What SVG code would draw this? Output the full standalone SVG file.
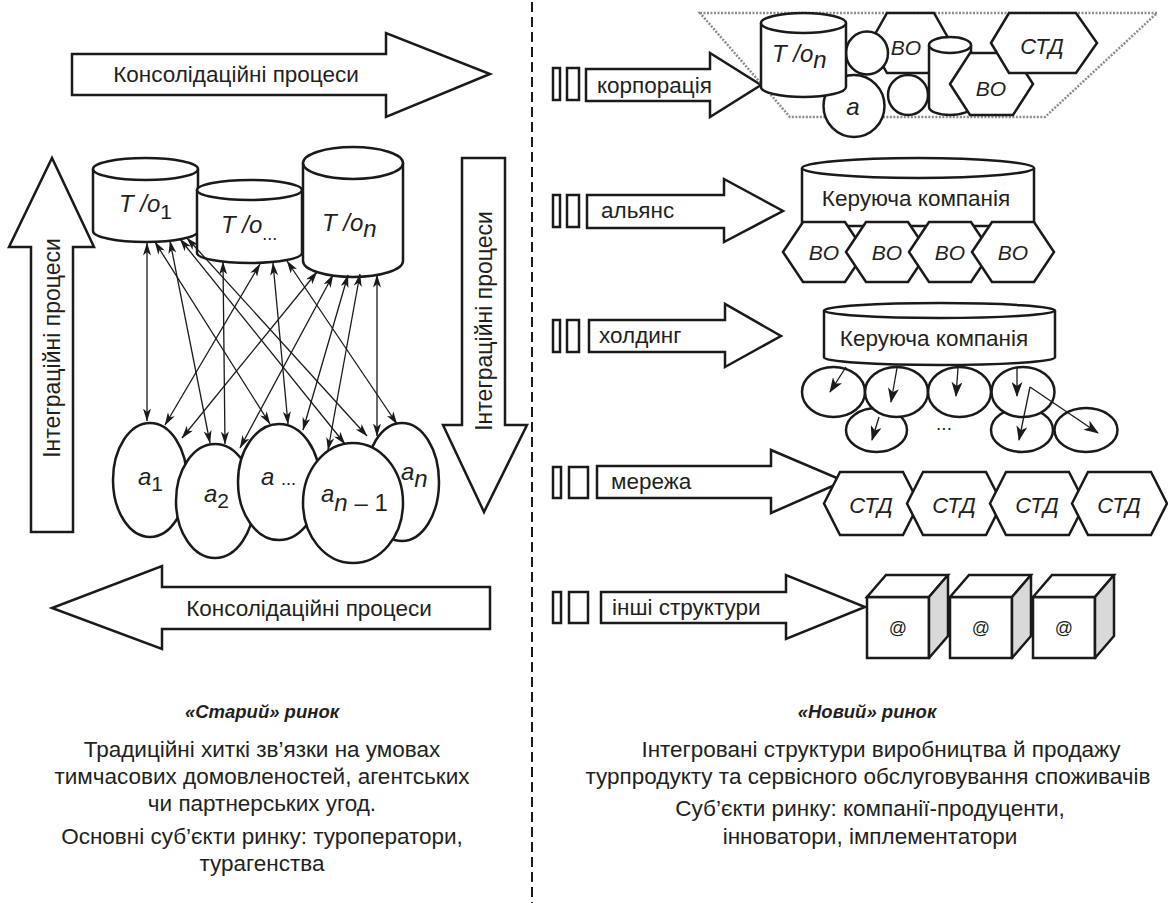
<svg xmlns="http://www.w3.org/2000/svg" width="1168" height="903" viewBox="0 0 1168 903">
<defs>
<style>
.s{fill:#fff;stroke:#1a1a1a;stroke-width:2.5}
.g{fill:#d9d9d9;stroke:#1a1a1a;stroke-width:2.5;stroke-linejoin:round}
.t{font-family:"Liberation Sans",Arial,sans-serif;fill:#231f20}
.i{font-style:italic}
.lab{font-size:22.5px}
.ln{stroke:#1a1a1a;stroke-width:1.3;fill:none}
.dot{fill:none;stroke:#8c8c8c;stroke-width:2.5;stroke-dasharray:2 1.5}
</style>
<marker id="m1" viewBox="0 0 13 8" refX="12.5" refY="4" markerWidth="13" markerHeight="8" markerUnits="userSpaceOnUse" orient="auto-start-reverse"><path d="M0,0 L13,4 L0,8 L3.5,4 Z" fill="#1a1a1a"/></marker>
<marker id="m2" viewBox="0 0 15 11" refX="14" refY="5.5" markerWidth="15" markerHeight="11" markerUnits="userSpaceOnUse" orient="auto"><path d="M0,0 L15,5.5 L0,11 L4,5.5 Z" fill="#1a1a1a"/></marker>
</defs>
<rect width="1168" height="903" fill="#fff"/>

<line x1="532" y1="2" x2="532" y2="903" stroke="#1a1a1a" stroke-width="2" stroke-dasharray="10 5"/>

<g id="cons-top">
<path class="s" d="M72,54 H386 V33 L490,74 L386,117 V95 H72 Z"/>
<text class="t lab" x="236" y="82" text-anchor="middle">Консолідаційні процеси</text>
</g>
<g id="cons-bottom">
<path class="s" d="M490,587 H162 V566 L52,608 L162,649 V629 H490 Z"/>
<text class="t lab" x="309" y="616" text-anchor="middle">Консолідаційні процеси</text>
</g>
<g id="integr-left">
<path class="s" d="M31,532 V247 H9 L52,158 L94,247 H73 V532 Z"/>
<text class="t" transform="translate(60,348) rotate(-90)" font-size="23" text-anchor="middle">Інтеграційні процеси</text>
</g>
<g id="integr-mid">
<path class="s" d="M462,158 H505 V425 H527 L484,512 L443,425 H462 Z"/>
<text class="t" transform="translate(492,321) rotate(-90)" font-size="23" text-anchor="middle">Інтеграційні процеси</text>
</g>

<g id="to1">
<path class="s" d="M93,169 V231 A52.5,11 0 0 0 198,231 V169"/>
<ellipse class="s" cx="145.5" cy="169" rx="52.5" ry="11"/>
<text class="t i" x="119" y="212" font-size="24">T /o<tspan font-style="normal" font-size="21" dy="7">1</tspan></text>
</g>
<g id="to2">
<path class="s" d="M197,190 V253 A52.5,10 0 0 0 302,253 V190"/>
<ellipse class="s" cx="249.5" cy="190" rx="52.5" ry="10"/>
<text class="t i" x="221" y="233" font-size="24">T /o<tspan font-style="normal" font-size="18" dy="7">...</tspan></text>
</g>
<g id="ton">
<path class="s" d="M303,163 V261 A50,16 0 0 0 403,261 V163"/>
<ellipse class="s" cx="353" cy="163" rx="50" ry="16"/>
<text class="t i" x="322" y="231" font-size="24">T /o<tspan dy="6">n</tspan></text>
</g>

<g id="a1">
<ellipse class="s" cx="150" cy="480" rx="37" ry="57"/>
<text class="t i" x="138" y="485" font-size="24">a<tspan font-style="normal" font-size="21" dy="6">1</tspan></text>
</g>
<g id="a2">
<ellipse class="s" cx="215" cy="501" rx="39" ry="57"/>
<text class="t i" x="204" y="502" font-size="24">a<tspan font-style="normal" font-size="21" dy="6">2</tspan></text>
</g>
<g id="a3">
<ellipse class="s" cx="279" cy="482" rx="41" ry="58"/>
<text class="t i" x="261" y="485" font-size="24">a <tspan font-style="normal" font-size="18">...</tspan></text>
</g>
<g id="an">
<ellipse class="s" cx="402" cy="482" rx="37" ry="59"/>
<text class="t i" x="401" y="480" font-size="24">a<tspan dy="7">n</tspan></text>
</g>
<g id="an1">
<ellipse class="s" cx="353" cy="503" rx="50" ry="60"/>
<text class="t i" x="321" y="502" font-size="24">a<tspan dy="9">n <tspan font-style="normal">– 1</tspan></tspan></text>
</g>

<g id="links-left">
<line class="ln" marker-start="url(#m1)" marker-end="url(#m1)" x1="147" y1="243" x2="147" y2="421"/>
<line class="ln" marker-start="url(#m1)" marker-end="url(#m1)" x1="170" y1="241" x2="210" y2="443"/>
<line class="ln" marker-start="url(#m1)" marker-end="url(#m1)" x1="155" y1="242" x2="270" y2="424"/>
<line class="ln" marker-start="url(#m1)" marker-end="url(#m1)" x1="180" y1="239" x2="345" y2="444"/>
<line class="ln" marker-start="url(#m1)" marker-end="url(#m1)" x1="187" y1="238" x2="367" y2="436"/>
<line class="ln" marker-start="url(#m1)" marker-end="url(#m1)" x1="223" y1="262" x2="225" y2="444"/>
<line class="ln" marker-start="url(#m1)" marker-end="url(#m1)" x1="260" y1="264" x2="165" y2="425"/>
<line class="ln" marker-start="url(#m1)" marker-end="url(#m1)" x1="273" y1="263" x2="288" y2="424"/>
<line class="ln" marker-start="url(#m1)" marker-end="url(#m1)" x1="287" y1="261" x2="397" y2="424"/>
<line class="ln" marker-start="url(#m1)" marker-end="url(#m1)" x1="317" y1="272" x2="182" y2="438"/>
<line class="ln" marker-start="url(#m1)" marker-end="url(#m1)" x1="333" y1="275" x2="240" y2="448"/>
<line class="ln" marker-start="url(#m1)" marker-end="url(#m1)" x1="348" y1="275" x2="303" y2="430"/>
<line class="ln" marker-start="url(#m1)" marker-end="url(#m1)" x1="360" y1="274" x2="328" y2="450"/>
<line class="ln" marker-start="url(#m1)" marker-end="url(#m1)" x1="377" y1="275" x2="377" y2="436"/>
</g>

<g id="corp-arrow">
<rect class="s" x="553" y="68" width="7" height="32"/>
<rect class="s" x="567" y="68" width="12" height="32"/>
<path class="s" d="M586,69 H710 V53 L761,85 L710,117 V101 H586 Z"/>
<text class="t lab" x="597" y="93">корпорація</text>
</g>
<g id="corp">
<polygon class="dot" points="700,13 1157,13 1045,117 790,117"/>
<polygon class="s" points="870,43 887,13 934,13 951,43 934,73 887,73"/>
<text class="t i" x="906" y="55" font-size="21" text-anchor="middle">BO</text>
<ellipse class="s" cx="867" cy="53" rx="21" ry="21.5"/>
<ellipse class="s" cx="854" cy="106" rx="30.5" ry="31"/>
<text class="t i" x="853" y="115" font-size="24" text-anchor="middle">a</text>
<path class="s" d="M761,23 V87 A42.5,10 0 0 0 846,87 V23"/>
<ellipse class="s" cx="803.5" cy="23" rx="42.5" ry="10"/>
<text class="t i" x="772" y="62" font-size="24">T /o<tspan dy="6">n</tspan></text>
<ellipse class="s" cx="908" cy="95" rx="20" ry="20"/>
<path class="s" d="M929,45 V107 A21,8 0 0 0 971,107 V45"/>
<ellipse class="s" cx="950" cy="45" rx="21" ry="8"/>
<polygon class="s" points="950,84 970,53 1013,53 1033,84 1013,115 970,115"/>
<text class="t i" x="991" y="96" font-size="21" text-anchor="middle">BO</text>
<polygon class="s" points="991,43 1009,13 1076,13 1097,43 1076,73 1009,73"/>
<text class="t i" x="1042" y="54" font-size="22" text-anchor="middle">СТД</text>
</g>

<g id="alliance-arrow">
<rect class="s" x="553" y="195" width="7" height="32"/>
<rect class="s" x="567" y="195" width="12" height="32"/>
<path class="s" d="M587,195 H724 V179 L783,211 L724,242 V228 H587 Z"/>
<text class="t lab" x="601" y="218">альянс</text>
</g>
<g id="alliance">
<path class="s" d="M802,168 V226 H1034 V168"/>
<ellipse class="s" cx="918" cy="168" rx="116" ry="10"/>
<text class="t lab" x="916" y="206" text-anchor="middle">Керуюча компанія</text>
<polygon class="s" points="783,252 803,222 845,222 865,252 845,282 803,282"/>
<text class="t i" x="824" y="260" font-size="21" text-anchor="middle">BO</text>
<polygon class="s" points="846,252 866,222 908,222 928,252 908,282 866,282"/>
<text class="t i" x="887" y="260" font-size="21" text-anchor="middle">BO</text>
<polygon class="s" points="909,252 929,222 971,222 991,252 971,282 929,282"/>
<text class="t i" x="950" y="260" font-size="21" text-anchor="middle">BO</text>
<polygon class="s" points="972,252 992,222 1034,222 1054,252 1034,282 992,282"/>
<text class="t i" x="1013" y="260" font-size="21" text-anchor="middle">BO</text>
</g>

<g id="holding-arrow">
<rect class="s" x="553" y="320" width="7" height="32"/>
<rect class="s" x="567" y="320" width="12" height="32"/>
<path class="s" d="M589,320 H725 V304 L781,336 L725,367 V352 H589 Z"/>
<text class="t lab" x="599" y="343">холдинг</text>
</g>
<g id="holding">
<path class="s" d="M824,310.5 V357.5 A115.5,7.5 0 0 0 1055,357.5 V310.5"/>
<ellipse class="s" cx="939.5" cy="310.5" rx="115.5" ry="7.5"/>
<text class="t lab" x="934" y="346" text-anchor="middle">Керуюча компанія</text>
<ellipse class="s" cx="876.5" cy="430" rx="30.5" ry="22"/>
<ellipse class="s" cx="1022" cy="430" rx="31" ry="22"/>
<ellipse class="s" cx="1086" cy="430" rx="31.5" ry="22"/>
<text class="t" x="944" y="430" font-size="19" text-anchor="middle">...</text>
<ellipse class="s" cx="833.5" cy="392" rx="31.5" ry="25"/>
<ellipse class="s" cx="896.5" cy="392" rx="31.5" ry="25"/>
<ellipse class="s" cx="959.5" cy="392" rx="31.5" ry="25"/>
<ellipse class="s" cx="1023" cy="392" rx="31.5" ry="25"/>
</g>
<g id="links-holding">
<line class="ln" marker-end="url(#m2)" x1="846" y1="367" x2="830" y2="392"/>
<line class="ln" marker-end="url(#m2)" x1="897" y1="368" x2="891" y2="402"/>
<line class="ln" marker-end="url(#m2)" x1="958" y1="368" x2="956" y2="396"/>
<line class="ln" marker-end="url(#m2)" x1="1017" y1="368" x2="1017" y2="396"/>
<line class="ln" marker-end="url(#m2)" x1="879" y1="417" x2="872" y2="440"/>
<line class="ln" marker-end="url(#m2)" x1="1030" y1="387" x2="1019" y2="440"/>
<line class="ln" marker-end="url(#m2)" x1="1030" y1="387" x2="1098" y2="433"/>
</g>

<g id="network-arrow">
<rect class="s" x="553" y="467" width="8" height="31"/>
<rect class="s" x="569" y="467" width="19" height="31"/>
<path class="s" d="M597,466 H771 V450 L844,481 L771,513 V498 H597 Z"/>
<text class="t lab" x="611" y="489">мережа</text>
</g>
<g id="network">
<polygon class="s" points="824,503.5 840,472 903,472 919,503.5 903,535 840,535"/>
<text class="t i" x="871" y="513" font-size="22" text-anchor="middle">СТД</text>
<polygon class="s" points="907,503.5 923,472 986,472 1002,503.5 986,535 923,535"/>
<text class="t i" x="954" y="513" font-size="22" text-anchor="middle">СТД</text>
<polygon class="s" points="990,503.5 1006,472 1069,472 1085,503.5 1069,535 1006,535"/>
<text class="t i" x="1037" y="513" font-size="22" text-anchor="middle">СТД</text>
<polygon class="s" points="1072,503.5 1088,472 1151,472 1167,503.5 1151,535 1088,535"/>
<text class="t i" x="1119" y="513" font-size="22" text-anchor="middle">СТД</text>
</g>

<g id="other-arrow">
<rect class="s" x="553" y="592" width="8" height="31"/>
<rect class="s" x="569" y="592" width="19" height="31"/>
<path class="s" d="M601,592 H786 V575 L865,607 L786,639 V623 H601 Z"/>
<text class="t lab" x="612" y="615">інші структури</text>
</g>
<g id="cube1">
<rect class="s" x="867" y="597" width="62" height="61"/>
<polygon class="s" points="867,597 886,575 948,575 929,597"/>
<polygon class="g" points="929,597 948,575 948,636 929,658"/>
<text class="t" x="898" y="634" font-size="18" text-anchor="middle">@</text>
</g>
<g id="cube2">
<rect class="s" x="950" y="597" width="62" height="61"/>
<polygon class="s" points="950,597 969,575 1031,575 1012,597"/>
<polygon class="g" points="1012,597 1031,575 1031,636 1012,658"/>
<text class="t" x="981" y="634" font-size="18" text-anchor="middle">@</text>
</g>
<g id="cube3">
<rect class="s" x="1033" y="597" width="62" height="61"/>
<polygon class="s" points="1033,597 1052,575 1114,575 1095,597"/>
<polygon class="g" points="1095,597 1114,575 1114,636 1095,658"/>
<text class="t" x="1064" y="634" font-size="18" text-anchor="middle">@</text>
</g>

<g id="caption-left" class="t" font-size="22.5" text-anchor="middle">
<text x="262" y="718" font-size="18.5" font-weight="bold" font-style="italic">«Старий» ринок</text>
<text x="262" y="757">Традиційні хиткі зв’язки на умовах</text>
<text x="262" y="784">тимчасових домовленостей, агентських</text>
<text x="262" y="811">чи партнерських угод.</text>
<text x="262" y="844">Основні суб’єкти ринку: туроператори,</text>
<text x="262" y="871">турагенства</text>
</g>
<g id="caption-right" class="t" font-size="22.5" text-anchor="middle">
<text x="867" y="718" font-size="18.5" font-weight="bold" font-style="italic">«Новий» ринок</text>
<text x="881" y="757">Інтегровані структури виробництва й продажу</text>
<text x="868" y="784">турпродукту та сервісного обслуговування споживачів</text>
<text x="870" y="816">Суб’єкти ринку: компанії-продуценти,</text>
<text x="870" y="844">інноватори, імплементатори</text>
</g>
</svg>
